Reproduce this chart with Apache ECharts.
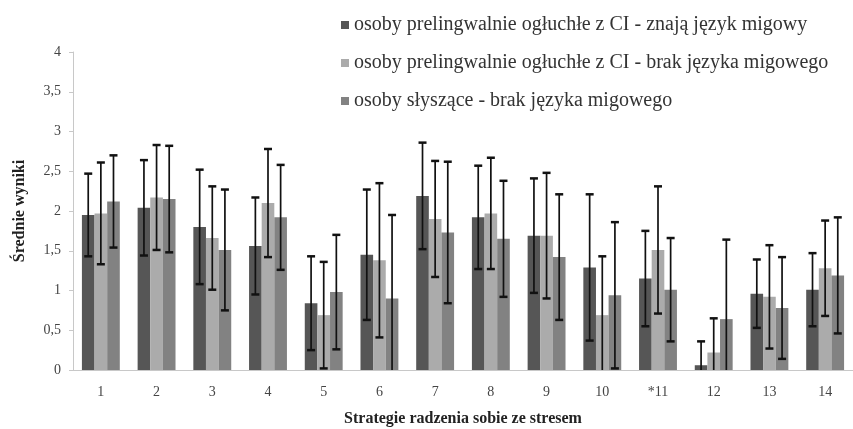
<!DOCTYPE html>
<html>
<head>
<meta charset="utf-8">
<script src="https://cdn.jsdelivr.net/npm/echarts@6/dist/echarts.min.js"></script>
<style>
  html, body { margin: 0; padding: 0; background: #fff; }
  #chart { width: 853px; height: 429px; }
</style>
</head>
<body>
<div id="chart"></div>
<script>
// Coping strategies (1–14) – mean scores with standard deviations
const categories = ['1', '2', '3', '4', '5', '6', '7', '8', '9', '10', '*11', '12', '13', '14'];

const seriesNames = [
  'osoby prelingwalnie ogłuchłe z CI - znają język migowy',
  'osoby prelingwalnie ogłuchłe z CI - brak języka migowego',
  'osoby słyszące - brak języka migowego'
];

const meansSign   = [1.95, 2.04, 1.80, 1.56, 0.84, 1.45, 2.19, 1.92, 1.69, 1.29, 1.15, 0.06, 0.96, 1.01];
const sdSign      = [0.52, 0.60, 0.72, 0.61, 0.59, 0.82, 0.67, 0.65, 0.72, 0.92, 0.60, 0.30, 0.43, 0.46];
const meansNoSign = [1.97, 2.17, 1.66, 2.10, 0.69, 1.38, 1.90, 1.97, 1.69, 0.69, 1.51, 0.22, 0.92, 1.28];
const sdNoSign    = [0.64, 0.66, 0.65, 0.68, 0.67, 0.97, 0.73, 0.70, 0.79, 0.74, 0.80, 0.43, 0.65, 0.60];
const meansHear   = [2.12, 2.15, 1.51, 1.92, 0.98, 0.90, 1.73, 1.65, 1.42, 0.94, 1.01, 0.64, 0.78, 1.19];
const sdHear      = [0.58, 0.67, 0.76, 0.66, 0.72, 1.05, 0.89, 0.73, 0.79, 0.92, 0.65, 1.00, 0.64, 0.73];

const yTicks = { min: 0, max: 4, interval: 0.5 };

const colors = ['#565656', '#ababab', '#828282'];
const serif = '"Liberation Serif", "DejaVu Serif", serif';
const CATEGORY_GAP = 0.32;

const groups = [
  { means: meansSign, sds: sdSign },
  { means: meansNoSign, sds: sdNoSign },
  { means: meansHear, sds: sdHear }
];

// Error bar drawn over the bar of series `k` (0..2) within each category band
function errorRenderer(k) {
  return function (params, api) {
    const idx = api.value(0);
    const mean = api.value(1);
    const sd = api.value(2);
    const band = api.size([1, 0])[0];
    const barW = band * (1 - CATEGORY_GAP) / 3;
    const dx = (k - 1) * barW;
    const lowVal = mean - sd;
    const clipped = lowVal < 0;
    const top = api.coord([idx, mean + sd]);
    const bottom = api.coord([idx, clipped ? 0 : lowVal]);
    const x = top[0] + dx;
    const cap = 4;
    const stroke = { stroke: '#111', lineWidth: 1.7 };
    const capStyle = { stroke: '#111', lineWidth: 2.5 };
    const children = [
      { type: 'line', shape: { x1: x, y1: top[1], x2: x, y2: bottom[1] }, style: stroke },
      { type: 'line', shape: { x1: x - cap, y1: top[1], x2: x + cap, y2: top[1] }, style: capStyle }
    ];
    if (!clipped) {
      children.push({ type: 'line', shape: { x1: x - cap, y1: bottom[1], x2: x + cap, y2: bottom[1] }, style: capStyle });
    }
    return { type: 'group', children: children };
  };
}

const series = [];
groups.forEach(function (g, k) {
  series.push({
    name: seriesNames[k],
    type: 'bar',
    data: g.means,
    barGap: '0%',
    barCategoryGap: (CATEGORY_GAP * 100) + '%',
    itemStyle: { color: colors[k] },
    silent: true
  });
});
groups.forEach(function (g, k) {
  series.push({
    type: 'custom',
    renderItem: errorRenderer(k),
    data: g.means.map(function (m, i) { return [i, m, g.sds[i]]; }),
    encode: { x: 0, y: 1 },
    z: 10,
    silent: true
  });
});

const chart = echarts.init(document.getElementById('chart'), null, { renderer: 'canvas' });
chart.setOption({
  animation: false,
  backgroundColor: '#ffffff',
  color: colors,
  legend: {
    data: seriesNames,
    orient: 'vertical',
    left: 336,
    top: 10,
    itemWidth: 8,
    itemHeight: 8,
    itemGap: 18,
    icon: 'rect',
    textStyle: { fontFamily: serif, fontSize: 20, color: '#333' }
  },
  grid: { left: 73, right: 0, top: 52, bottom: 59, containLabel: false, outerBoundsMode: 'none' },
  xAxis: {
    type: 'category',
    data: categories,
    name: 'Strategie radzenia sobie ze stresem',
    nameLocation: 'middle',
    nameGap: 41,
    nameTextStyle: { fontFamily: serif, fontSize: 16, fontWeight: 'bold', color: '#222' },
    axisLine: { lineStyle: { color: '#c8c8c8', width: 1 } },
    axisTick: { show: false },
    axisLabel: { fontFamily: serif, fontSize: 14, color: '#444', margin: 15 }
  },
  yAxis: {
    type: 'value',
    min: yTicks.min,
    max: yTicks.max,
    interval: yTicks.interval,
    name: 'Średnie wyniki',
    nameLocation: 'middle',
    nameGap: 45,
    nameTextStyle: { fontFamily: serif, fontSize: 16, fontWeight: 'bold', color: '#222' },
    axisLine: { show: true, lineStyle: { color: '#c8c8c8', width: 1 } },
    axisTick: { show: true, length: 4, lineStyle: { color: '#c8c8c8' } },
    splitLine: { show: false },
    axisLabel: {
      fontFamily: serif, fontSize: 14, color: '#444', margin: 12,
      formatter: function (v) { return String(v).replace('.', ','); }
    }
  },
  series: series
});
</script>
</body>
</html>
